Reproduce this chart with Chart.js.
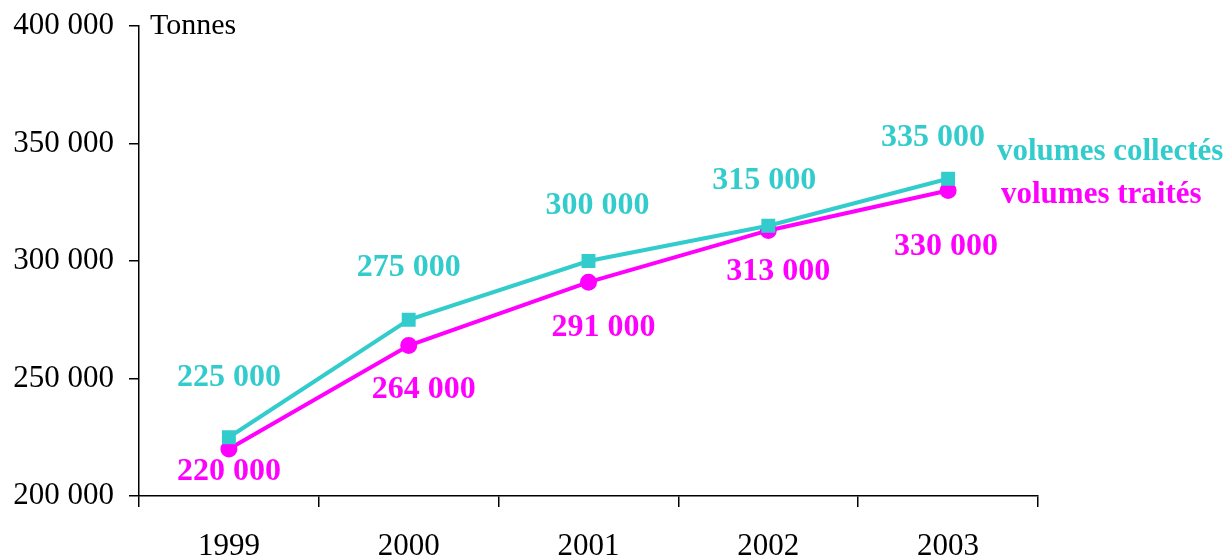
<!DOCTYPE html>
<html>
<head>
<meta charset="utf-8">
<script src="https://cdn.jsdelivr.net/npm/chart.js@4"></script>
<style>
  html, body { margin: 0; padding: 0; background: #fff; }
  #wrap { width: 1231px; height: 557px; position: relative; }
</style>
</head>
<body>
<div id="wrap"><canvas id="chart"></canvas></div>
<script>
const years = ["1999", "2000", "2001", "2002", "2003"];
const collected = [225000, 275000, 300000, 315000, 335000];
const treated = [220000, 264000, 291000, 313000, 330000];
const seriesNames = ["volumes collectés", "volumes traités"];
const unitLabel = "Tonnes";

const CYAN = "#33CCCC";
const MAGENTA = "#FF00FF";
const SERIF = "'Liberation Serif', 'Times New Roman', serif";

function fmt(v) {
  return String(v).replace(/\B(?=(\d{3})+(?!\d))/g, " ");
}

// label offsets from each point (pixels)
const labelOffsets = [
  [[0, -60], [0, -52], [9, -55], [-4, -45], [-15, -41]],
  [[0, 23], [15, 44], [15, 46], [10, 41], [-2, 56]]
];

const labelsPlugin = {
  id: "labelsPlugin",
  afterDatasetsDraw(chart) {
    const ctx = chart.ctx;
    ctx.save();
    ctx.font = "bold 32px " + SERIF;
    ctx.textAlign = "center";
    ctx.textBaseline = "middle";
    chart.data.datasets.forEach((ds, i) => {
      const meta = chart.getDatasetMeta(i);
      ctx.fillStyle = ds.borderColor;
      meta.data.forEach((pt, j) => {
        const off = labelOffsets[i][j];
        ctx.fillText(fmt(ds.data[j]), pt.x + off[0], pt.y + off[1]);
      });
    });
    // series names on the right
    ctx.font = "bold 31px " + SERIF;
    ctx.textAlign = "left";
    ctx.fillStyle = CYAN;
    ctx.fillText(seriesNames[0], 997, 152);
    ctx.fillStyle = MAGENTA;
    ctx.fillText(seriesNames[1], 1001, 195);
    // unit
    ctx.font = "30px " + SERIF;
    ctx.fillStyle = "#000";
    ctx.fillText(unitLabel, 150, 26);
    ctx.restore();
  }
};

new Chart(document.getElementById("chart"), {
  type: "line",
  data: {
    labels: years,
    datasets: [
      {
        label: seriesNames[0],
        data: collected,
        borderColor: CYAN,
        backgroundColor: CYAN,
        borderWidth: 4,
        pointStyle: "rect",
        pointRadius: 7,
        pointHoverRadius: 7,
        tension: 0
      },
      {
        label: seriesNames[1],
        data: treated,
        borderColor: MAGENTA,
        backgroundColor: MAGENTA,
        borderWidth: 4,
        pointStyle: "circle",
        pointRadius: 6.5,
        pointHoverRadius: 6.5,
        tension: 0
      }
    ]
  },
  options: {
    responsive: true,
    maintainAspectRatio: false,
    animation: false,
    layout: { padding: { left: 0, right: 193, top: 26, bottom: 0 } },
    plugins: {
      legend: { display: false },
      tooltip: { enabled: false },
      title: { display: false }
    },
    scales: {
      x: {
        offset: true,
        grid: {
          offset: true,
          drawOnChartArea: false,
          drawTicks: true,
          tickLength: 11,
          color: "#000",
          lineWidth: 1.5
        },
        border: { color: "#000", width: 1.5 },
        ticks: {
          color: "#000",
          font: { family: SERIF, size: 31 },
          padding: 21
        },
        afterFit(scale) { scale.height = 61; }
      },
      y: {
        min: 200000,
        max: 400000,
        grid: {
          drawOnChartArea: false,
          drawTicks: true,
          tickLength: 10,
          color: "#000",
          lineWidth: 1.5
        },
        border: { color: "#000", width: 1.5 },
        ticks: {
          stepSize: 50000,
          color: "#000",
          font: { family: SERIF, size: 31 },
          padding: 15,
          callback: v => fmt(v)
        },
        afterFit(scale) {
          scale.width = 139;
          scale.paddingTop = 0;
          scale.paddingBottom = 0;
        }
      }
    }
  },
  plugins: [labelsPlugin]
});
</script>
</body>
</html>
